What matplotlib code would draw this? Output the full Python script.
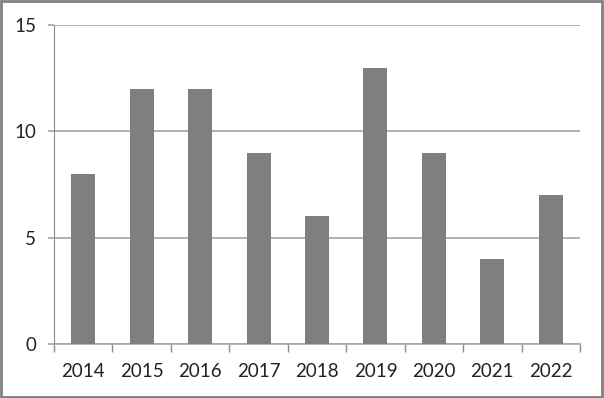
import matplotlib
matplotlib.use("Agg")
import matplotlib.pyplot as plt
from matplotlib.patches import Rectangle
import numpy as np

years = ["2014", "2015", "2016", "2017", "2018", "2019", "2020", "2021", "2022"]
values = [8, 12, 12, 9, 6, 13, 9, 4, 7]
yticks = [0, 5, 10, 15]

plt.rcParams['font.family'] = ['Lato', 'DejaVu Sans']

fig = plt.figure(figsize=(6.04, 3.98), dpi=100)
ax = fig.add_axes([54/604, 1-344/398, (580-54)/604, (344-25)/398])

x = np.arange(len(years))
ax.bar(x, values, width=0.41, color='#7f7f7f', zorder=3)
ax.set_xlim(-0.5, len(years)-0.5)
ax.set_ylim(0, 15)
ax.set_yticks(yticks)
ax.set_yticklabels([str(v) for v in yticks])
ax.yaxis.grid(True, color='#a6a6a6', linewidth=1.2, zorder=0)
ax.set_xticks(x)
ax.set_xticklabels(years)
ax.set_xticks(np.arange(-0.5, len(years)), minor=True)
ax.tick_params(axis='x', which='major', length=0, pad=14, labelsize=13.5, labelcolor='#222222')
ax.tick_params(axis='x', which='minor', length=6, color='#8c8c8c', width=1)
ax.tick_params(axis='y', length=4.3, color='#a6a6a6', width=1.2, pad=8.5, labelsize=13.5, labelcolor='#222222')
for s in ['top', 'right']:
    ax.spines[s].set_visible(False)
ax.spines['left'].set_color('#8c8c8c')
ax.spines['bottom'].set_color('#a6a6a6')
ax.spines['bottom'].set_linewidth(1.2)

fig.patches.append(Rectangle((0.002, 0.003), 0.995, 0.994, transform=fig.transFigure,
                             fill=False, edgecolor='#808080', linewidth=2))

fig.savefig("out.png", dpi=100)
